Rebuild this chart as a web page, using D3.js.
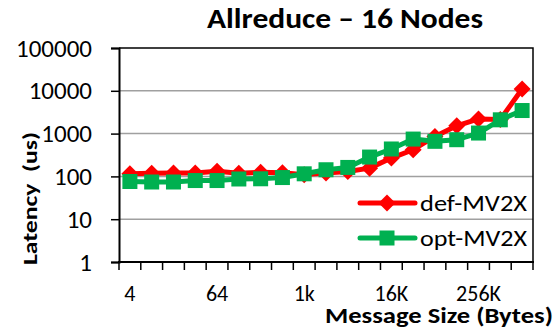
<!DOCTYPE html>
<html>
<head>
<meta charset="utf-8">
<script src="https://cdn.jsdelivr.net/npm/d3@7"></script>
<style>
  html, body { margin: 0; padding: 0; background: #fff; }
  svg { display: block; }
  text { font-family: Carlito, "Open Sans", "Liberation Sans", sans-serif; fill: #000; }
</style>
</head>
<body>
<svg id="chart" width="557" height="329"></svg>
<script>
// Message sizes (bytes) on the category axis
const sizes = ["4","8","16","32","64","128","256","512","1k","2k","4k","8k","16K","32K","64K","128K","256K","512K","1M"];
// Only every fourth size gets a label
const sizeLabels = ["4","64","1k","16K","256K"];
// Allreduce latency (us), 16 nodes
const defMV2X = [115,118,120,120,132,118,125,122,110,120,130,156,268,420,860,1520,2200,2130,11000];
const optMV2X = [76,74,74,80,80,87,88,94,115,143,162,283,437,745,660,720,1030,2100,3460];
const yTicks = [1,10,100,1000,10000,100000];

const seriesList = [
  {name: "def-MV2X", values: defMV2X, color: "#ff0000", marker: "diamond"},
  {name: "opt-MV2X", values: optMV2X, color: "#00b050", marker: "square"}
];

const svg = d3.select("#chart");
const plot = {left: 119, right: 533, top: 48, bottom: 262};

const x = d3.scaleBand().domain(sizes).range([plot.left, plot.right]).padding(0);
const y = d3.scaleLog().domain([1, 100000]).range([plot.bottom, plot.top]);
const cx = d => x(d) + x.bandwidth() / 2;

// horizontal gridlines
svg.append("g").selectAll("line").data(yTicks.slice(1, -1)).join("line")
  .attr("x1", plot.left).attr("x2", plot.right)
  .attr("y1", d => y(d)).attr("y2", d => y(d))
  .attr("stroke", "#a0a0a0").attr("stroke-width", 1.5);

// frame top and right
svg.append("path")
  .attr("d", `M${plot.left},${plot.top}H${plot.right}V${plot.bottom}`)
  .attr("fill", "none").attr("stroke", "#000").attr("stroke-width", 1.5);

// y axis
const yAxis = svg.append("g").attr("transform", `translate(${plot.left},0)`)
  .call(d3.axisLeft(y).tickValues(yTicks).tickFormat(d3.format("d")).tickSize(8).tickPadding(19));
yAxis.select(".domain").attr("stroke", "#000").attr("stroke-width", 2);
yAxis.selectAll(".tick line").attr("stroke", "#000").attr("stroke-width", 1.5);
yAxis.selectAll(".tick text").attr("font-size", 25).attr("font-family", null);

// x axis: labels under categories, ticks on category boundaries
const xAxis = svg.append("g").attr("transform", `translate(0,${plot.bottom})`)
  .call(d3.axisBottom(x).tickSize(0)
    .tickFormat(d => sizeLabels.includes(d) ? d : ""));
xAxis.select(".domain").remove();
xAxis.selectAll(".tick text").attr("font-size", 22).attr("font-family", null)
  .attr("dy", null).attr("y", 38.5);
const bounds = sizes.map(d => x(d)).concat([x(sizes[sizes.length - 1]) + x.bandwidth()]);
svg.append("g").selectAll("line").data(bounds).join("line")
  .attr("x1", d => d).attr("x2", d => d)
  .attr("y1", plot.bottom).attr("y2", plot.bottom + 8)
  .attr("stroke", "#000").attr("stroke-width", 1.5);
svg.append("line")
  .attr("x1", plot.left - 1).attr("x2", plot.right + 1)
  .attr("y1", plot.bottom).attr("y2", plot.bottom)
  .attr("stroke", "#000").attr("stroke-width", 2);

// markers
function drawMarker(g, type, color) {
  if (type === "diamond") {
    g.append("path").attr("d", "M0,-8.5L8.5,0L0,8.5L-8.5,0Z").attr("fill", color);
  } else {
    g.append("rect").attr("x", -7.5).attr("y", -7.5).attr("width", 15).attr("height", 15).attr("fill", color);
  }
}

const line = d3.line().x((v, i) => cx(sizes[i])).y(v => y(v));
seriesList.forEach(s => {
  const g = svg.append("g");
  g.append("path").attr("d", line(s.values))
    .attr("fill", "none").attr("stroke", s.color).attr("stroke-width", 5)
    .attr("stroke-linejoin", "round");
  s.values.forEach((v, i) => {
    const m = g.append("g").attr("transform", `translate(${cx(sizes[i])},${y(v)})`);
    drawMarker(m, s.marker, s.color);
  });
});

// legend
const legend = svg.append("g");
seriesList.forEach((s, i) => {
  const ly = 203 + i * 35;
  const g = legend.append("g").attr("transform", `translate(0,${ly})`);
  g.append("line").attr("x1", 360).attr("x2", 415).attr("y1", 0).attr("y2", 0)
    .attr("stroke", s.color).attr("stroke-width", 5).attr("stroke-linecap", "round");
  const m = g.append("g").attr("transform", "translate(387,0)");
  drawMarker(m, s.marker, s.color);
  g.append("text").attr("x", 420).attr("y", 7.5)
    .attr("font-size", 23).attr("textLength", 107).attr("lengthAdjust", "spacingAndGlyphs")
    .text(s.name);
});

// titles
svg.append("text").attr("x", 207).attr("y", 28)
  .attr("font-size", 28).attr("font-weight", "bold")
  .attr("textLength", 276).attr("lengthAdjust", "spacingAndGlyphs")
  .text("Allreduce – 16 Nodes");
svg.append("text").attr("transform", "translate(37,265) rotate(-90)")
  .attr("font-size", 20).attr("font-weight", "bold")
  .attr("textLength", 133).attr("lengthAdjust", "spacingAndGlyphs")
  .style("white-space", "pre").text("Latency  (us)");
svg.append("text").attr("x", 325).attr("y", 322.5)
  .attr("font-size", 22.5).attr("font-weight", "bold")
  .attr("textLength", 228).attr("lengthAdjust", "spacingAndGlyphs")
  .text("Message Size (Bytes)");
</script>
</body>
</html>
